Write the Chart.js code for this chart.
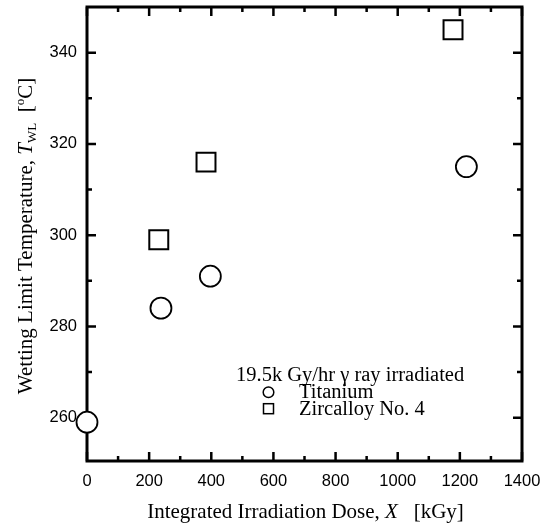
<!DOCTYPE html>
<html>
<head>
<meta charset="utf-8">
<script src="https://cdn.jsdelivr.net/npm/chart.js@4.4.1/dist/chart.umd.min.js"></script>
<style>
  html, body { margin: 0; padding: 0; background: #fff; }
  #wrap { width: 544px; height: 527px; }
</style>
</head>
<body>
<div id="wrap"><canvas id="grafico"></canvas></div>
<script>
// datos
const titanio_x = [0, 238, 397, 1221];
const titanio_y = [259, 284, 291, 315];
const zirc_x = [231, 383, 1178];
const zirc_y = [299, 316, 345];

const etiquetas = ['Titanium', 'Zircalloy No. 4'];
const titulo_leyenda = '19.5k Gy/hr \u03b3 ray irradiated';

const ticks_x = [0, 200, 400, 600, 800, 1000, 1200, 1400];
const ticks_x_menor = [100, 300, 500, 700, 900, 1100, 1300];
const ticks_y = [260, 280, 300, 320, 340];
const ticks_y_menor = [270, 290, 310, 330];

const serif = '"Liberation Serif", "Times New Roman", serif';
const sans = '"Liberation Sans", Arial, sans-serif';
const tam_titulo = 21;
const tam_leyenda = 20.5;

// dibuja trozos de texto con distintas fuentes (subindices, cursiva...)
function dibujarTrozos(ctx, trozos, x, y) {
    let ancho = 0;
    trozos.forEach(t => { ctx.font = t.font; ancho += ctx.measureText(t.text).width; });
    let cx = x - ancho / 2;
    trozos.forEach(t => {
        ctx.font = t.font;
        ctx.fillText(t.text, cx, y + (t.dy || 0));
        cx += ctx.measureText(t.text).width;
    });
}

// sin margenes extra de las etiquetas
const sinRelleno = s => { s.paddingLeft = 0; s.paddingRight = 0; s.paddingTop = 0; s.paddingBottom = 0; };

const marcoYticks = {
    id: 'marcoYticks',
    beforeDatasetsDraw(chart) {
        const ctx = chart.ctx;
        const a = chart.chartArea;
        const sx = chart.scales.x, sy = chart.scales.y;
        ctx.save();
        ctx.strokeStyle = '#000';
        ctx.lineCap = 'butt';
        ctx.lineWidth = 2.5;
        const mayor = 9, menor = 5;
        const tickX = (v, len) => {
            const px = sx.getPixelForValue(v);
            ctx.beginPath();
            ctx.moveTo(px, a.bottom); ctx.lineTo(px, a.bottom - len);
            ctx.moveTo(px, a.top); ctx.lineTo(px, a.top + len);
            ctx.stroke();
        };
        const tickY = (v, len) => {
            const py = sy.getPixelForValue(v);
            ctx.beginPath();
            ctx.moveTo(a.left, py); ctx.lineTo(a.left + len, py);
            ctx.moveTo(a.right, py); ctx.lineTo(a.right - len, py);
            ctx.stroke();
        };
        ticks_x.forEach(v => tickX(v, mayor));
        ticks_x_menor.forEach(v => tickX(v, menor));
        ticks_y.forEach(v => tickY(v, mayor));
        ticks_y_menor.forEach(v => tickY(v, menor));
        ctx.lineWidth = 3;
        ctx.strokeRect(a.left, a.top, a.right - a.left, a.bottom - a.top);
        ctx.restore();
    },
    afterDraw(chart) {
        const ctx = chart.ctx;
        const a = chart.chartArea;
        ctx.save();
        ctx.fillStyle = '#000';
        ctx.textBaseline = 'alphabetic';
        const f = tam_titulo + 'px ' + serif;
        const fi = 'italic ' + tam_titulo + 'px ' + serif;
        const fs = '13px ' + serif;

        // titulo eje x
        dibujarTrozos(ctx, [
            { text: 'Integrated Irradiation Dose, ', font: f },
            { text: 'X', font: fi },
            { text: '   [kGy]', font: f }
        ], (a.left + a.right) / 2 + 1, 518);

        // titulo eje y
        ctx.save();
        ctx.translate(32, 236);
        ctx.rotate(-Math.PI / 2);
        dibujarTrozos(ctx, [
            { text: 'Wetting Limit Temperature, ', font: f },
            { text: 'T', font: fi },
            { text: 'WL', font: fs, dy: 4 },
            { text: '  [', font: f },
            { text: 'o', font: fs, dy: -8 },
            { text: 'C]', font: f }
        ], 0, 0);
        ctx.restore();

        // leyenda
        ctx.font = tam_leyenda + 'px ' + serif;
        ctx.textAlign = 'left';
        ctx.fillText(titulo_leyenda, 236, 381);
        ctx.fillText(etiquetas[0], 299, 398);
        ctx.fillText(etiquetas[1], 299, 415);
        ctx.lineWidth = 1.5;
        ctx.strokeStyle = '#000';
        ctx.beginPath();
        ctx.arc(268.5, 392.3, 5.3, 0, Math.PI * 2);
        ctx.stroke();
        ctx.strokeRect(263.5, 403.7, 10, 10);
        ctx.restore();
    }
};

const ctx = document.getElementById('grafico').getContext('2d');
const grafico = new Chart(ctx, {
    type: 'scatter',
    data: {
        datasets: [{
            label: etiquetas[0],
            data: titanio_x.map((x, i) => ({ x: x, y: titanio_y[i] })),
            pointStyle: 'circle',
            pointRadius: 10.5,
            pointBackgroundColor: '#fff',
            pointBorderColor: '#000',
            pointBorderWidth: 1.8,
            clip: false
        }, {
            label: etiquetas[1],
            data: zirc_x.map((x, i) => ({ x: x, y: zirc_y[i] })),
            pointStyle: 'rect',
            pointRadius: 13.4,
            pointBackgroundColor: '#fff',
            pointBorderColor: '#000',
            pointBorderWidth: 2,
            clip: false
        }]
    },
    options: {
        responsive: true,
        maintainAspectRatio: false,
        animation: false,
        events: [],
        layout: { autoPadding: false, padding: { left: 0, right: 22, top: 7, bottom: 0 } },
        plugins: {
            legend: { display: false },
            tooltip: { enabled: false }
        },
        scales: {
            x: {
                type: 'linear',
                min: 0,
                max: 1400,
                grid: { display: false, drawTicks: false },
                border: { display: false },
                afterBuildTicks: s => { s.ticks = ticks_x.map(v => ({ value: v })); },
                afterFit: s => { s.height = 66; sinRelleno(s); },
                ticks: {
                    padding: 11,
                    maxRotation: 0,
                    color: '#000',
                    font: { family: sans, size: 16.5 },
                    callback: v => String(v)
                }
            },
            y: {
                type: 'linear',
                min: 250.5,
                max: 350,
                grid: { display: false, drawTicks: false },
                border: { display: false },
                afterBuildTicks: s => { s.ticks = ticks_y.map(v => ({ value: v })); },
                afterFit: s => { s.width = 87; sinRelleno(s); },
                ticks: {
                    padding: 10,
                    color: '#000',
                    font: { family: sans, size: 16.5 },
                    callback: v => String(v)
                }
            }
        }
    },
    plugins: [marcoYticks]
});
</script>
</body>
</html>
